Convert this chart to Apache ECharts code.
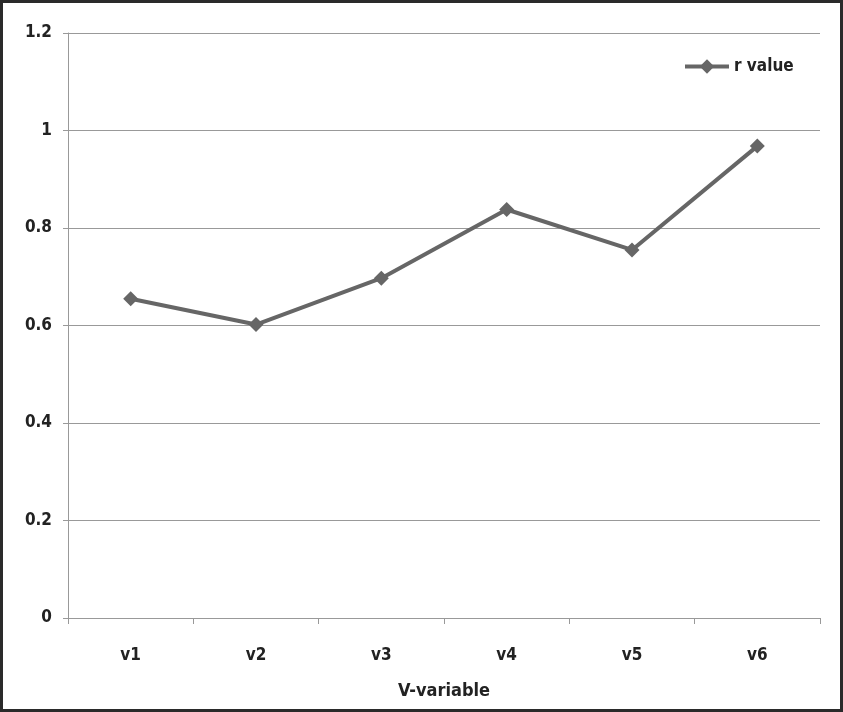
<!DOCTYPE html>
<html><head><meta charset="utf-8">
<script src="https://cdn.jsdelivr.net/npm/echarts@6/dist/echarts.min.js"></script>
<style>html,body{margin:0;padding:0;background:#fff}#c{width:843px;height:712px}</style>
</head><body><div id="c"></div>
<script>
const categories = ['v1','v2','v3','v4','v5','v6'];
const rValues = [0.655, 0.602, 0.697, 0.838, 0.755, 0.968];
const seriesName = 'r value';
const xAxisName = 'V-variable';
const font = "'Liberation Sans Narrow','DejaVu Sans Condensed','Liberation Sans',sans-serif";
const chart = echarts.init(document.getElementById('c'));
chart.setOption({
  animation: false,
  backgroundColor: '#fff',
  graphic: [{type:'rect', shape:{x:1.5,y:1.5,width:840,height:709}, style:{fill:'none', stroke:'#2a2a2a', lineWidth:3}, silent:true}],
  grid: {left: 68, right: 23, top: 33, bottom: 94},
  legend: {
    data: [seriesName], left: 678, top: 53, itemWidth: 44, itemHeight: 18, itemGap: 6,
    lineStyle: {width: 4, color: '#666'},
    textStyle: {fontFamily: font, fontWeight: 'bold', fontSize: 17, color: '#222'}
  },
  xAxis: {
    type: 'category', data: categories, boundaryGap: true,
    name: xAxisName, nameLocation: 'middle', nameGap: 64,
    nameTextStyle: {fontFamily: font, fontWeight: 'bold', fontSize: 18, color: '#222'},
    axisLine: {lineStyle: {color: '#999', width: 1}},
    axisTick: {show: true, length: 6, lineStyle: {color: '#999'}},
    axisLabel: {fontFamily: font, fontWeight: 'bold', fontSize: 17, color: '#222', margin: 29}
  },
  yAxis: {
    type: 'value', min: 0, max: 1.2, interval: 0.2,
    axisLine: {show: true, lineStyle: {color: '#999', width: 1}},
    axisTick: {show: true, length: 5, lineStyle: {color: '#999'}},
    splitLine: {show: true, lineStyle: {color: '#999', width: 1}},
    axisLabel: {fontFamily: font, fontWeight: 'bold', fontSize: 17, color: '#222', margin: 16}
  },
  series: [{
    name: seriesName, type: 'line', data: rValues,
    symbol: 'diamond', symbolSize: 15,
    lineStyle: {color: '#666', width: 4},
    itemStyle: {color: '#666'}
  }]
});
</script></body></html>
